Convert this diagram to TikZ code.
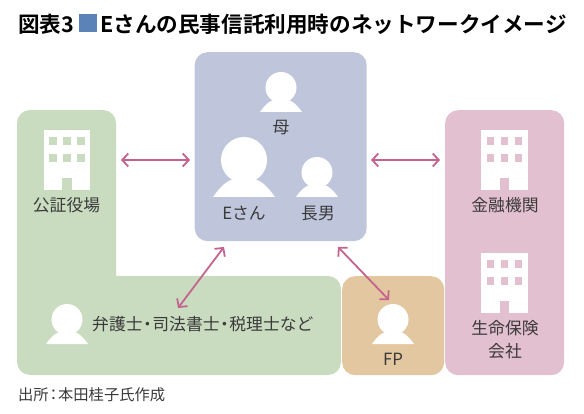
\documentclass[tikz,border=0pt]{standalone}
\usepackage{fontspec}
\setmainfont{Noto Sans CJK JP}
\newfontfamily\titlefont[BoldFont=*]{Noto Sans CJK JP Bold}
\usetikzlibrary{arrows.meta}
\definecolor{cblue}{HTML}{BFC6DC}
\definecolor{cgreen}{HTML}{C9DCC0}
\definecolor{corange}{HTML}{E3C7A0}
\definecolor{cpink}{HTML}{E3C0CF}
\definecolor{csq}{HTML}{5B83B8}
\definecolor{carrow}{HTML}{C4648E}
\definecolor{ctext}{HTML}{3A3A3A}
\tikzset{
  panel/.style={rounded corners=13pt,draw=none,inner sep=0pt,anchor=north west},
  lab/.style={inner sep=0pt,text=ctext,font=\fontsize{16.8}{23}\selectfont,align=center},
  src/.style={inner sep=0pt,anchor=west,text=ctext,font=\fontsize{15.3}{17}\selectfont},
  ttl/.style={inner sep=0pt,anchor=west,text=black,font=\titlefont\fontsize{21.6}{24}\selectfont},
  link/.style={draw=carrow,line width=1.8pt,{Straight Barb[length=6pt,width=13pt,line width=1.8pt]}-{Straight Barb[length=6pt,width=13pt,line width=1.8pt]}},
}
% person: #1 centre x, #2 head top, #3 head radius, #4 half base width, #5 base y
\newcommand{\person}[5]{%
  \fill[white] (#1-#4,#5) .. controls (#1-#4*0.55,#5-#3*0.85) and (#1-#3*0.5,#5-#3*0.75) .. (#1,#5-#3*0.9)
     .. controls (#1+#3*0.5,#5-#3*0.75) and (#1+#4*0.55,#5-#3*0.85) .. (#1+#4,#5) -- cycle;
  \fill[white] (#1,#2+#3) circle (#3);
}
% building: #1 left x, #2 top y, #3 colour
\newcommand{\building}[3]{%
  \fill[white] (#1,#2) rectangle ++(46.5,60);
  \fill[#3] (#1+18.5,#2+48) rectangle ++(9.5,12);
  \foreach \wx in {5.5,19.5,33.5}{\foreach \wy in {7.5,24}{
    \fill[#3] (#1+\wx,#2+\wy) rectangle ++(7.5,8);}}
}
\begin{document}
\begin{tikzpicture}[x=1pt,y=-1pt]
\useasboundingbox (0,0) rectangle (584,414);
% title
\node[ttl] (title1) at (18,24) {図表3};
\node[fill=csq,minimum width=18pt,minimum height=18pt,inner sep=0pt] (sq) at (88,23) {};
\node[ttl] (title2) at (100,24) {Eさんの民事信託利用時のネットワークイメージ};
% panels
\node[panel,fill=cblue,minimum width=172pt,minimum height=189pt] (family) at (194.5,52) {};
\fill[cgreen,rounded corners=13pt] (17,110) -- (116,110) -- (116,276) [sharp corners] -- (116,276) [rounded corners=13pt] -- (341,276) -- (341,375) -- (17,375) -- cycle;
\node[panel,fill=corange,minimum width=102pt,minimum height=99pt] (fpbox) at (342,276) {};
\node[panel,fill=cpink,minimum width=119pt,minimum height=265pt] (bank) at (445,110) {};
% people
\person{281}{72}{15.5}{21}{112}
\person{244}{137}{23}{31}{197}
\person{317}{157}{15.5}{21}{197}
\person{67}{304}{15.5}{21}{344}
\person{393}{304}{15.5}{21}{344}
% buildings
\building{43.5}{130}{cgreen}
\building{481}{130}{cpink}
\building{481}{253}{cpink}
% labels
\node[lab] (mother) at (281,128) {母};
\node[lab] (mrE) at (244,213) {Eさん};
\node[lab] (son) at (318,213) {長男};
\node[lab] (notary) at (66.5,205) {公証役場};
\node[lab,anchor=west] (lawyer) at (92,324) {弁護士\kern-3.5pt・\kern-3.5pt司法書士\kern-3.5pt・\kern-3.5pt税理士など};
\node[lab] (fp) at (393,359) {FP};
\node[lab] (finance) at (505,205) {金融機関};
\node[lab] (insur) at (505,339.5) {生命保険\\会社};
\node[src] (source) at (18,395) {出所\kern-3pt：\kern-3pt本田桂子氏作成};
% connector ends
\coordinate (gA) at (121,160);
\coordinate (fA) at (190,160);
\coordinate (fB) at (371,160);
\coordinate (pB) at (440,160);
\coordinate (fC) at (224,247);
\coordinate (gC) at (178,308);
\coordinate (fD) at (338,247);
\coordinate (oD) at (389,300);
\draw[link] (gA) -- (fA);
\draw[link] (fB) -- (pB);
\draw[link] (fC) -- (gC);
\draw[link] (fD) -- (oD);
\end{tikzpicture}
\end{document}
